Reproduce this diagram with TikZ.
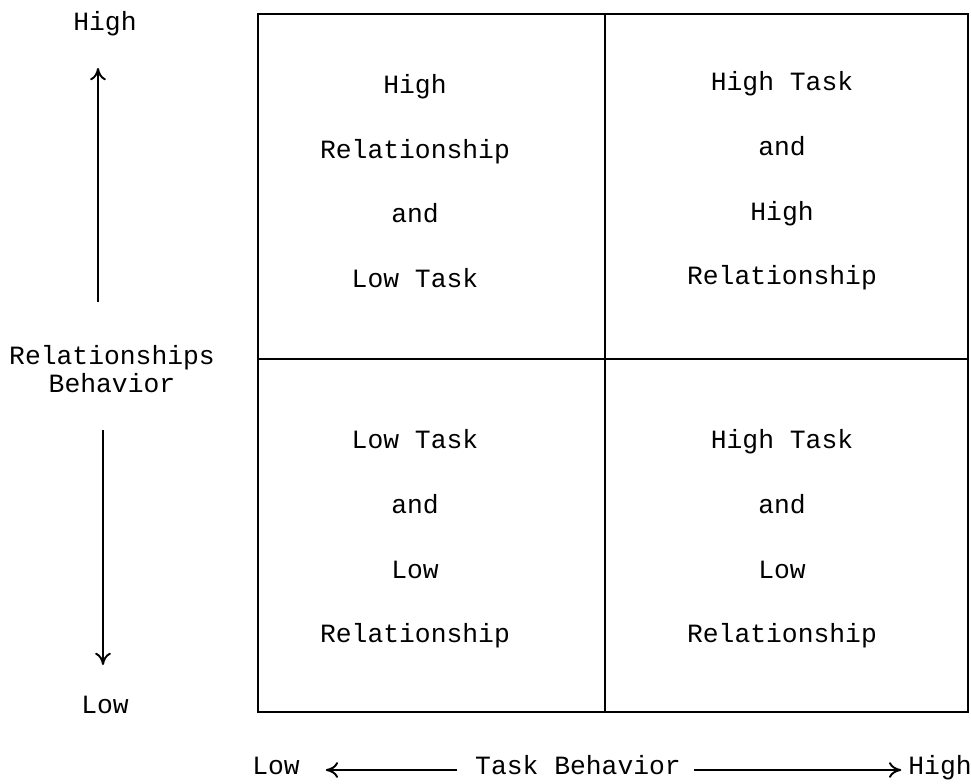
\documentclass[tikz,border=0pt]{standalone}
\usepackage{fontspec}
\setmonofont{Liberation Mono}
\usetikzlibrary{arrows.meta,positioning}

\tikzset{
  typed/.style={font=\ttfamily\fontsize{15}{16}\selectfont, align=center, inner sep=1pt},
  xtyped/.style={typed, text height=8pt, text depth=3pt},
  cell/.style={font=\ttfamily\fontsize{15}{36.8}\selectfont, align=center, inner sep=0pt},
  axis/.style={line width=1.1pt, -{To[length=7pt,width=9pt]}}
}

\begin{document}
\begin{tikzpicture}[x=0.02cm, y=-0.02cm]
        % Rahmen
            \useasboundingbox (0,0) rectangle (971,784);

        % Gitter
            \draw[line width=1pt] (258,14) rectangle (968,712);
            \draw[line width=1pt] (605,14) -- (605,712);
            \draw[line width=1pt] (258,359) -- (968,359);

        % Felder
            \node[cell] (hrlt) at (415,181) {High\\Relationship\\and\\Low Task};
            \node[cell] (hthr) at (782,181) {High Task\\and\\High\\Relationship};
            \node[cell] (ltlr) at (415,539) {Low Task\\and\\Low\\Relationship};
            \node[cell] (htlr) at (782,539) {High Task\\and\\Low\\Relationship};

        % Achse Beziehung
            \node[typed] (yhigh) at (105,24) {High};
            \node[typed] (ylabel) at (112,369) {Relationships\\Behavior};
            \node[typed] (ylow) at (105,705) {Low};
            \coordinate (yup0) at (98,302);
            \coordinate (yup1) at (98,68);
            \coordinate (ydn0) at (103,430);
            \coordinate (ydn1) at (103,665);
            \draw[axis] (yup0) -- (yup1);
            \draw[axis] (ydn0) -- (ydn1);

        % Achse Aufgabe
            \node[xtyped] (xlow) at (276,770) {Low};
            \node[xtyped] (xlabel) at (578,770) {Task Behavior};
            \node[xtyped] (xhigh) at (940,770) {High};
            \draw[axis, shorten <=0.32cm, shorten >=0.48cm] (xlabel) -- (xlow);
            \draw[axis, shorten <=0.22cm, shorten >=0.1cm] (xlabel) -- (xhigh);
\end{tikzpicture}
\end{document}
